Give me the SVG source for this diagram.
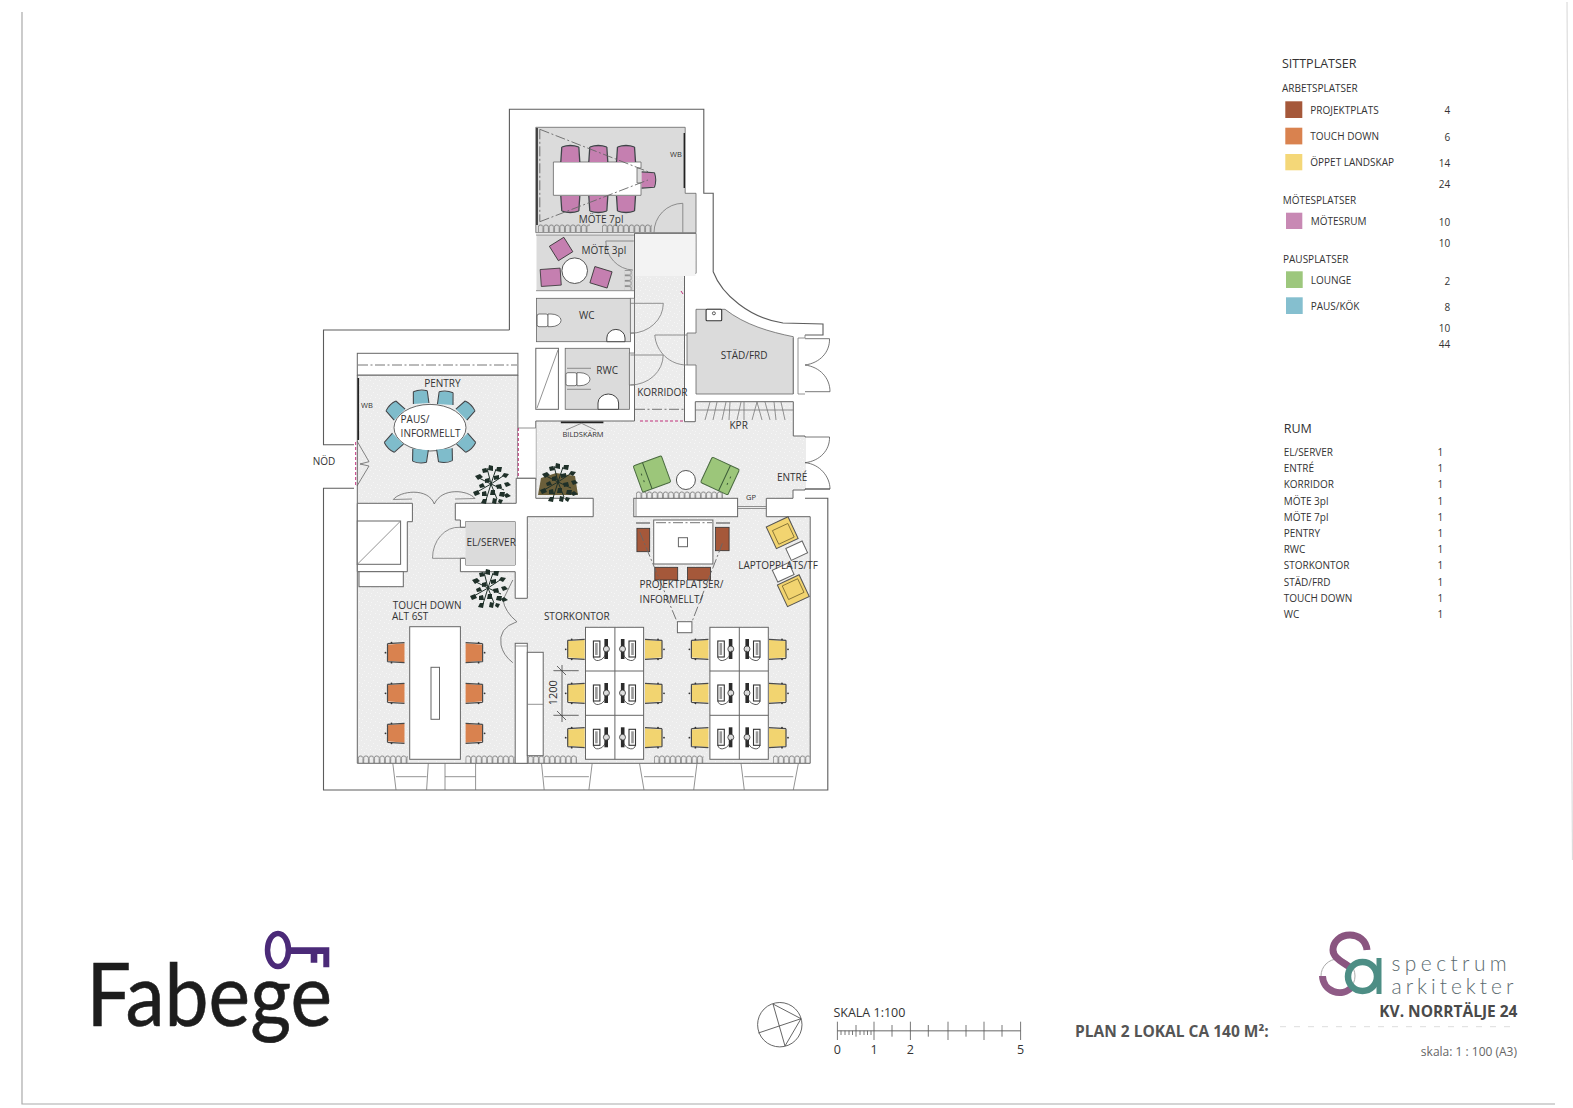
<svg xmlns="http://www.w3.org/2000/svg" width="1573" height="1108" viewBox="0 0 1573 1108">
<style>
text{font-family:"Open Sans","Liberation Sans",sans-serif;fill:#333}
.l{font-size:10px}
.r{font-size:10px}
.n{font-size:10px;text-anchor:end}
.s{font-size:7.500px}
.w{fill:none;stroke:#5c5c5c;stroke-width:1.1}
.t{fill:none;stroke:#777;stroke-width:.8}
.wh{fill:#fff;stroke:#666;stroke-width:1}
.dd{fill:none;stroke:#666;stroke-width:.9;stroke-dasharray:10 2.5 2 2.5}
.mg{fill:none;stroke:#c0307a;stroke-width:1;stroke-dasharray:3 2}
.rm{fill:#dbdbdb}
</style>
<defs>
<pattern id="curtain" width="5.4" height="8" patternUnits="userSpaceOnUse"><path d="M.3 8V3.2a2.3 2.3 0 0 1 4.6 0V8" fill="none" stroke="#666" stroke-width=".7"/></pattern>
<pattern id="curtainV" width="8" height="5.4" patternUnits="userSpaceOnUse"><path d="M0 .3H4.8a2.3 2.3 0 0 1 0 4.6H0" fill="none" stroke="#666" stroke-width=".7"/></pattern>
<pattern id="floor" width="9" height="9" patternUnits="userSpaceOnUse"><rect width="9" height="9" fill="#ececec"/><path d="M1 2h1v1H1zM6 1h1v1H6zM4 5h1v1H4zM8 7h1v1H8zM2 8h1v1H2z" fill="#f6f6f6"/></pattern>
<g id="c"><path d="M-8-7Q0-9 8-7L9.500 8H-9.500Z"/><path d="M-8.500-7Q0-10 8.500-7M-8.500-7L-9.500 8M8.500-7L9.500 8" fill="none" stroke="#3f4448" stroke-width="1.300"/></g>
<g id="c2"><path d="M-8-8H8L9.500 9H-9.500Z"/><path d="M-9-8H9M-9-8L-10 9M9-8L10 9" fill="none" stroke="#4a4a4a" stroke-width="1.200"/><circle cx="-10" cy="-4" r=".9" fill="#333"/><circle cx="10" cy="-4" r=".9" fill="#333"/><circle cx="0" cy="-10" r=".9" fill="#333"/></g>
<g id="pc"><rect x="-9" y="-8" width="6.500" height="16" fill="#fff" stroke="#333" stroke-width="1.100"/><rect x="-7.300" y="-6" width="2.600" height="12" fill="#999"/><rect x="2" y="-10" width="3.600" height="20" fill="#2c2c2c"/><circle cx="4" cy="0" r="3" fill="#ddd" stroke="#333" stroke-width=".8"/><path d="M-9 8q1 4 5 3.500t6-4q2-3 3-6" fill="none" stroke="#333" stroke-width=".8"/></g>
<g id="plant"><path d="M0 0L-12-6M0 0L12-8M0 0L-14 8M0 0L13 6M0 0L-4-16M0 0L5-15M0 0L-5 16M0 0L6 15" stroke="#1f3029" stroke-width="1" fill="none"/><path d="M-16-8l5-2 3 3-5 3zM-9-15l4-1 2 4-5 1zM-2-19l4 1 0 5-5-1zM6-17l5 0-1 5-5-1zM13-11l5 1-3 4-4-2zM17-2l3 3-5 2-2-4zM-6-5l4-1 1 4-5 1zM3-8l5-1 0 4-5 1zM-12 1l4-2 2 4-5 1zM5 1l5-1 1 4-5 1zM-18 8l5-2 2 4-5 2zM-9 8l4-1 1 5-5 0zM0 6l4 0 0 5-5 0zM9 8l5 0-1 5-5-1zM16 9l4 3-5 2-2-3zM-8 15l4 0-1 5-5-1zM2 14l4 1-1 5-4-1zM8 15l4 1-2 4-3-2z" fill="#1f3029"/></g>
</defs>
<rect width="1573" height="1108" fill="#fff"/>
<g id="page-frame" fill="none" stroke="#aaa" stroke-width="1.200"><path d="M22 12V1104H1555"/><path d="M1567 2L1572.500 860" stroke="#ddd"/></g>

<g id="floor-plan">
<polygon id="floor-main" points="357.3,375 517.9,375 517.9,480 535.8,480 535.8,421 634.5,421 634.5,233.3 696,233.3 696,273.3 684.5,273.3 684.5,421.7 695.3,421.7 695.3,401.7 793.3,401.7 793.3,436 805,436 805,490 793,490 793,498.3 766.3,498.3 766.3,516.7 810.2,516.7 810.2,763.3 357.3,763.3" fill="url(#floor)" stroke="#666" stroke-width="1"/>
<path d="M805 437V489" stroke="#ececec" stroke-width="2"/>
<rect x="635" y="234" width="60.500" height="42" fill="#f3f3f3"/>
<path class="w" d="M509.400 330V109.300H703.800V193.300H713.200V271.700C722 295 750 318 783 323L823 324V335H805M805 489H830M805 498.300H827.800V790H323.500V488.300H354M354 444.800H323.500V330H509.400"/>
<g id="windows" class="t"><path d="M392.800 763.300L396 790M396 776.700H426.600M426.600 790L428.300 763.300M445 763.300V790M445 776.700H475.600M475.600 790V763.300M541.500 763.300L544.200 790M544.200 776.700H588.900M588.900 790L592.200 763.300M639.500 763.300L644 790M644 776.700H693.700M693.700 790L697 763.300M741 763.300L744.300 790M744.300 776.700H793.300M793.300 790L798.400 763.300"/></g>
<rect transform="translate(358,755)" width="50" height="8" fill="url(#curtain)"/>
<rect transform="translate(465.500,755)" width="49" height="8" fill="url(#curtain)"/>
<rect transform="translate(528,755)" width="49" height="8" fill="url(#curtain)"/>
<rect transform="translate(654,755)" width="49.500" height="8" fill="url(#curtain)"/>
<rect transform="translate(773,755)" width="36.500" height="8" fill="url(#curtain)"/>
<rect transform="translate(636,491)" width="87" height="8" fill="url(#curtain)"/>

<g id="walls">
<polygon class="wh" points="455.3,503.3 516.2,503.3 516.2,478.3 535.8,478.3 535.8,498.3 593.2,498.3 593.2,516.7 527.3,516.7 527.3,598.3 515.2,598.3 515.2,571.700 460.4,571.7 460.4,558.3 465.5,558.3 465.5,565 515.2,565 515.2,521.7 465.5,521.7 465.5,527.3 460.4,527.3 460.4,520 455.300,520"/>
<polygon class="wh" points="357.3,503.3 412.4,503.3 412.4,521.7 407.3,521.7 407.3,571.7 357.3,571.7"/>
<rect class="wh" x="357.300" y="521" width="43.300" height="43.300"/><path class="t" d="M400.600 521L357.300 564.300"/>
<rect class="wh" x="359" y="571.700" width="44.300" height="15"/>
<rect class="wh" x="515.200" y="643.300" width="12.100" height="120"/><path class="t" d="M515.200 646H527.300"/>
<rect class="wh" x="527.300" y="652.300" width="15.900" height="103.400"/><path class="t" d="M527.300 704.300H543.200"/>
<rect x="518" y="428" width="17.800" height="50" fill="#fff"/><path class="t" d="M518 428H535.800M518 478H535.800"/>
<path class="mg" d="M518.300 428V478M355.700 442V487M640 421H684"/>
<path class="dd" d="M635 409.300H684.500"/>
<rect class="wh" x="357.300" y="353.300" width="160.600" height="21.700"/><path class="dd" d="M358 365H517"/>
<path d="M358.300 378V440" stroke="#222" stroke-width="1.600"/>
<path d="M681 291L683 294" stroke="#c0307a" stroke-width="1"/>
</g>

<g id="room-mote7">
<polygon class="rm" points="535.800,127.300 685.200,127.300 685.200,193.300 696,193.300 696,232.700 535.800,232.700" stroke="#666" stroke-width=".8"/>
<path d="M537 128V225" stroke="#222" stroke-width="1.600"/><path d="M684.300 133V188" stroke="#222" stroke-width="1.400"/>
<polygon fill="#fff" stroke="#666" stroke-width=".8" points="553.400,162 641,162 641,168 637,168 637,183 641,183 641,195.300 553.400,195.300"/>
<g fill="#c57fb0"><use href="#c" x="570.300" y="154"/><use href="#c" x="598.300" y="154"/><use href="#c" x="626" y="154"/><use href="#c" transform="translate(570.300,204) rotate(180)"/><use href="#c" transform="translate(598.300,204) rotate(180)"/><use href="#c" transform="translate(626,204) rotate(180)"/><use href="#c" transform="translate(648.500,180) rotate(90) scale(.85)"/></g>
<path class="dd" d="M539.800 129.300L648 171.700M539.800 221.700L648 180M539.800 129.300V221.700"/>
<path class="t" d="M682.800 232.700V203.300A29 29.400 0 0 0 654 232.700"/>
<rect transform="translate(538,224)" width="52" height="8" fill="url(#curtain)"/>
<rect transform="translate(602,224)" width="50" height="8" fill="url(#curtain)"/>
</g>
<g id="room-mote3">
<rect class="rm" x="536.500" y="235" width="97.300" height="55.700"/><path class="t" d="M536 235H634M536 290.700H634"/>
<circle cx="574.700" cy="270.700" r="12.800" fill="#fff" stroke="#555"/>
<g fill="#c57fb0" stroke="#333" stroke-width=".8"><rect x="-8.500" y="-8.500" width="17" height="17" transform="translate(561.100,249) rotate(-32)"/><rect x="-10" y="-8.500" width="20" height="17" transform="translate(550.700,277.300) rotate(-4)"/><rect x="-9" y="-8.500" width="18" height="17" transform="translate(601,277.300) rotate(17)"/></g>
<path class="t" d="M633.800 241H605.800A28 29 0 0 0 632.800 270"/>
<rect transform="translate(624.500,270)" width="8" height="20" fill="url(#curtainV)"/>
</g>
<g id="room-wc">
<rect class="rm" x="536.500" y="298.300" width="93.900" height="43.400" stroke="#666" stroke-width=".8"/>
<path d="M630.400 298.300H634.500V333H630.400Z" fill="#ebebeb" stroke="#666" stroke-width=".7"/>
<path class="t" d="M630.500 303.300H663.300A33 30 0 0 1 630.500 333.300"/>
<rect x="537.100" y="314" width="11" height="12.700" rx="2" fill="#fff" stroke="#555" stroke-width=".8"/><path d="M548 314H551A10 6.300 0 0 1 551 326.700H548Z" fill="#fff" stroke="#555" stroke-width=".8"/>
<path d="M606.800 341.700V338A9 8.500 0 0 1 625 338V341.700Z" fill="#fff" stroke="#444" stroke-width="1"/>
</g>
<g id="room-rwc">
<rect class="rm" x="565.200" y="348.300" width="64.200" height="61" stroke="#666" stroke-width=".8"/>
<path d="M629.400 353H634.500V385H629.400Z" fill="#ebebeb" stroke="#666" stroke-width=".7"/>
<path class="t" d="M630.400 355H663.200A33 30 0 0 1 630.400 385"/>
<rect x="565.900" y="372.700" width="11" height="13" rx="2" fill="#fff" stroke="#555" stroke-width=".8"/><path d="M577 372.700H580A10 6.500 0 0 1 580 385.700H577Z" fill="#fff" stroke="#555" stroke-width=".8"/>
<path class="t" d="M567 368.300H591M567 389.300H591"/>
<path d="M598 409.300V403A10.300 9 0 0 1 618.600 403V409.300Z" fill="#fff" stroke="#444" stroke-width="1"/>
</g>
<g id="closet"><rect class="wh" x="535.800" y="348.300" width="22.600" height="61"/><path class="t" d="M558 350L537 408"/></g>
<g id="room-stad">
<path class="rm" d="M696 309.300H725C745 325 770 332 793.300 336.700V394H696V365H687V333H696Z" stroke="#666" stroke-width=".8"/>
<path class="t" d="M654.800 335H687M654.800 335C656 352 670 365 687 365"/>
<rect x="706.100" y="309.300" width="15.600" height="11.400" rx="1" fill="#fff" stroke="#333" stroke-width="1.100"/><circle cx="713.900" cy="313.300" r="1.500" fill="#fff" stroke="#333" stroke-width=".8"/>
</g>
<g id="doors" class="t">
<path d="M793.300 338V394M798 338V394M798 338H805V335M798 394H805"/>
<path d="M805 338.700H829.500C830 352 820 363 805 365C820 367 830 378 830 391.700H805" stroke="#555"/>
<path d="M805 437H829.500C830 450 820 461 805 462.700C820 464 830 477 830 489H805" stroke="#555"/>
<path d="M357 441L369 461.700L360 464L369 466L357 486" stroke="#666"/>
<path d="M393.300 499.500C400 491 428 487 434.300 504C442 487 468 490 475 498.500" stroke="#666"/>
<path d="M412 499L393.300 499.500M455 499L475 498.500"/>
<path d="M465.500 527.300H460A26 31 0 0 0 432.500 558.300H465.500"/>
<path d="M512.800 580L503 600Q505 612 516.900 621.700Q498 628 501 645Q503 655 512.800 662.700" stroke="#666"/>
<path d="M737.600 506.500H766.300M737.600 508.500H766.300" stroke="#777"/>
</g>
<g id="kpr" class="t"><path d="M695.300 410H793.300M705 420L710 402M713 420L717 402M722 420L726 402M729 420L730 402M737 420L741 402M744 420L744 402M752 420L757 402M762 420L757 402M770 420L765 402M776 420L774 402M785 420L781 402"/></g>
<g id="bildskarm"><path d="M560.800 422.300H603.400" stroke="#222" stroke-width="1.800"/><path class="t" d="M566 430L581.400 423.300L595.600 430"/></g>
<g id="room-pentry">
<ellipse cx="430" cy="427.700" rx="36" ry="23.300" fill="#fff" stroke="#666"/>
<g fill="#7fbccb"><use href="#c" transform="translate(420.700,397) rotate(-4) scale(.82)"/><use href="#c" transform="translate(445.700,398) rotate(4) scale(.82)"/><use href="#c" transform="translate(395,410) rotate(-45) scale(.82)"/><use href="#c" transform="translate(466,410) rotate(45) scale(.82)"/><use href="#c" transform="translate(393.300,443.300) rotate(-135) scale(.82)"/><use href="#c" transform="translate(466.700,443.300) rotate(135) scale(.82)"/><use href="#c" transform="translate(420,456) rotate(185) scale(.82)"/><use href="#c" transform="translate(445,455.500) rotate(175) scale(.82)"/></g>
</g>
<g id="room-el"><rect class="rm" x="465.500" y="521.700" width="49.700" height="43.300"/></g>
<g id="plants"><use href="#plant" x="491" y="484"/><g><path d="M538 495L541 478L556 473L575 476L578 495Z" fill="#6b5f3a"/><use href="#plant" x="558" y="482"/></g><use href="#plant" x="488" y="588"/></g>
<g id="lounge">
<g transform="translate(652,474) rotate(-20)"><rect x="-15" y="-14" width="30" height="28" rx="1.500" fill="#9cc67a" stroke="#4a6a40"/><path d="M-5-14V14M-10-4v2M-10 3v2" stroke="#3c5c38" fill="none"/></g>
<g transform="translate(720,476) rotate(25)"><rect x="-15" y="-14" width="30" height="28" rx="1.500" fill="#9cc67a" stroke="#4a6a40"/><path d="M5-14V14M10-4v2M10 3v2" stroke="#3c5c38" fill="none"/></g>
<circle cx="685.900" cy="480" r="9.500" fill="#fff" stroke="#555"/>
<rect class="wh" x="633.800" y="498.300" width="103.800" height="18.400"/><path class="t" d="M636 498.300V516.700"/>
</g>
<g id="project">
<rect class="wh" x="653.700" y="520" width="59.200" height="44"/><rect class="wh" x="678.400" y="537.700" width="9.100" height="9"/>
<g fill="#a5583a" stroke="#333" stroke-width=".8"><rect x="636.900" y="528.300" width="12.800" height="23.400"/><rect x="715.600" y="527.300" width="13.500" height="23.400"/><rect x="654.800" y="567.300" width="22.900" height="12.700"/><rect x="687.500" y="567.300" width="23" height="12.700"/></g>
<path class="dd" d="M639.600 531.700L677 621.700M722.400 543.300L692 621.700M656 522.700H712"/>
<rect class="wh" x="677.400" y="621.700" width="14.500" height="11"/>
<path d="M636 523H650M716 523H730" stroke="#444" stroke-width="1.100"/>
</g>
<g id="laptop">
<g transform="translate(782.200,532.700) rotate(-25)"><rect x="-12" y="-12" width="24" height="24" fill="#f2d470" stroke="#555"/><rect x="-8" y="-6" width="17" height="15" fill="none" stroke="#7a6a30" stroke-width=".8"/></g>
<g transform="translate(793.300,590.700) rotate(-25)"><rect x="-12" y="-12" width="24" height="24" fill="#f2d470" stroke="#555"/><rect x="-8" y="-9" width="17" height="15" fill="none" stroke="#7a6a30" stroke-width=".8"/></g>
<rect x="-9" y="-6.500" width="18" height="13" transform="translate(796.700,550.700) rotate(-25)" class="wh"/>
<rect x="-9" y="-6.500" width="18" height="13" transform="translate(783.200,572.300) rotate(-25)" class="wh"/>
</g>
<g id="touchdown">
<rect class="wh" x="409.700" y="626.700" width="50.700" height="132.600"/><rect class="wh" x="431" y="667.300" width="8.500" height="52"/>
<g fill="#d9824f"><use href="#c2" transform="translate(395.500,652.700) rotate(-90)"/><use href="#c2" transform="translate(395.500,693.300) rotate(-90)"/><use href="#c2" transform="translate(395.500,733.300) rotate(-90)"/><use href="#c2" transform="translate(474.600,652.700) rotate(90)"/><use href="#c2" transform="translate(474.600,693.300) rotate(90)"/><use href="#c2" transform="translate(474.600,733.300) rotate(90)"/></g>
</g>
<g id="desks-a">
<rect class="wh" x="585.500" y="627.300" width="58.100" height="132"/><path d="M614.900 627.300V759.300M585.500 671H643.600M585.500 715.300H643.600" stroke="#666" fill="none"/>
<g><use href="#pc" x="602.400" y="649"/><use href="#pc" x="602.400" y="693"/><use href="#pc" x="602.400" y="737.300"/><use href="#pc" transform="translate(626.500,649) scale(-1,1)"/><use href="#pc" transform="translate(626.500,693) scale(-1,1)"/><use href="#pc" transform="translate(626.500,737.300) scale(-1,1)"/></g>
<g fill="#f2d470"><use href="#c2" transform="translate(575.700,649.300) rotate(-90)"/><use href="#c2" transform="translate(575.700,693.300) rotate(-90)"/><use href="#c2" transform="translate(575.700,737.700) rotate(-90)"/><use href="#c2" transform="translate(654,649.300) rotate(90)"/><use href="#c2" transform="translate(654,693.300) rotate(90)"/><use href="#c2" transform="translate(654,737.700) rotate(90)"/></g>
</g>
<g id="desks-b">
<rect class="wh" x="709.900" y="627.300" width="58.400" height="132"/><path d="M739.300 627.300V759.300M709.900 671H768.300M709.900 715.300H768.300" stroke="#666" fill="none"/>
<g><use href="#pc" x="726.800" y="649"/><use href="#pc" x="726.800" y="693"/><use href="#pc" x="726.800" y="737.300"/><use href="#pc" transform="translate(751,649) scale(-1,1)"/><use href="#pc" transform="translate(751,693) scale(-1,1)"/><use href="#pc" transform="translate(751,737.300) scale(-1,1)"/></g>
<g fill="#f2d470"><use href="#c2" transform="translate(699.400,649.300) rotate(-90)"/><use href="#c2" transform="translate(699.400,693.300) rotate(-90)"/><use href="#c2" transform="translate(699.400,737.700) rotate(-90)"/><use href="#c2" transform="translate(778,649.300) rotate(90)"/><use href="#c2" transform="translate(778,693.300) rotate(90)"/><use href="#c2" transform="translate(778,737.700) rotate(90)"/></g>
</g>
<g id="dimension" fill="none" stroke="#444" stroke-width=".8"><path d="M553.400 670.700H578.700M553.400 715.300H578.700M562 665V722M557 666L566 675M557 711L566 720"/></g>
<g id="plan-labels">
<text class="s" x="670" y="157.300">WB</text>
<text class="s" x="361" y="408">WB</text>
<text class="r" x="578.700" y="223">MÖTE 7pl</text>
<text class="r" x="581.400" y="253.500">MÖTE 3pl</text>
<text class="r" x="579" y="318.500">WC</text>
<text class="r" x="596.300" y="373.500">RWC</text>
<text class="r" x="720.700" y="358.500">STÄD/FRD</text>
<text class="r" x="637.200" y="396">KORRIDOR</text>
<text class="r" x="729.500" y="429">KPR</text>
<text class="s" x="562.500" y="436.500">BILDSKÄRM</text>
<text class="r" x="424.200" y="386.500">PENTRY</text>
<text class="r" x="400.600" y="422.500">PAUS/</text>
<text class="r" x="400.600" y="436.500">INFORMELLT</text>
<text class="r" x="312.700" y="465">NÖD</text>
<text class="r" x="777" y="480.500">ENTRÉ</text>
<text class="s" x="746" y="500">GP</text>
<text class="r" x="466.500" y="546">EL/SERVER</text>
<text class="r" x="738.200" y="569">LAPTOPPLATS/TF</text>
<text class="r" x="639.600" y="588">PROJEKTPLATSER/</text>
<text class="r" x="639.600" y="602.500">INFORMELLT/</text>
<text class="r" x="392.800" y="609">TOUCH DOWN</text>
<text class="r" x="392" y="620">ALT 6ST</text>
<text class="r" x="543.900" y="620">STORKONTOR</text>
<text font-size="11" transform="translate(557,692.700) rotate(-90)" text-anchor="middle">1200</text>
</g>
</g>

<g id="legend-seats">
<text x="1282" y="68" font-size="12.500">SITTPLATSER</text>
<text class="l" x="1282" y="92">ARBETSPLATSER</text>
<rect x="1285.300" y="101.300" width="17" height="16.700" fill="#a5583a"/><text class="l" x="1310.300" y="114">PROJEKTPLATS</text><text class="n" x="1450.300" y="114">4</text>
<rect x="1285.300" y="127.700" width="17" height="16.700" fill="#d9824f"/><text class="l" x="1310.300" y="140">TOUCH DOWN</text><text class="n" x="1450.300" y="140.500">6</text>
<rect x="1285.300" y="154" width="17" height="16.300" fill="#f4d778"/><text class="l" x="1310.300" y="166">ÖPPET LANDSKAP</text><text class="n" x="1450.300" y="166.500">14</text>
<text class="n" x="1450.300" y="188">24</text>
<text class="l" x="1282.700" y="203.700">MÖTESPLATSER</text>
<rect x="1286" y="212.700" width="16.300" height="16.300" fill="#c889b4"/><text class="l" x="1310.700" y="225">MÖTESRUM</text><text class="n" x="1450.300" y="225.500">10</text>
<text class="n" x="1450.300" y="246.700">10</text>
<text class="l" x="1283" y="262.700">PAUSPLATSER</text>
<rect x="1286" y="271.300" width="16.700" height="16.700" fill="#9dc77d"/><text class="l" x="1310.700" y="284">LOUNGE</text><text class="n" x="1450.300" y="284.500">2</text>
<rect x="1286" y="297.300" width="16.700" height="16.700" fill="#85bfcf"/><text class="l" x="1310.700" y="310">PAUS/KÖK</text><text class="n" x="1450.300" y="311">8</text>
<text class="n" x="1450.300" y="331.700">10</text>
<text class="n" x="1450.300" y="347.700">44</text>
</g>
<g id="legend-rooms">
<text x="1283.700" y="432.700" font-size="12.500">RUM</text>
<text class="l" x="1283.700" y="456">EL/SERVER</text><text class="n" x="1443.300" y="456">1</text>
<text class="l" x="1283.700" y="472.300">ENTRÉ</text><text class="n" x="1443.300" y="472.300">1</text>
<text class="l" x="1283.700" y="488.300">KORRIDOR</text><text class="n" x="1443.300" y="488.300">1</text>
<text class="l" x="1283.700" y="504.700">MÖTE 3pl</text><text class="n" x="1443.300" y="504.700">1</text>
<text class="l" x="1283.700" y="521">MÖTE 7pl</text><text class="n" x="1443.300" y="521">1</text>
<text class="l" x="1283.700" y="537">PENTRY</text><text class="n" x="1443.300" y="537">1</text>
<text class="l" x="1283.700" y="553.300">RWC</text><text class="n" x="1443.300" y="553.300">1</text>
<text class="l" x="1283.700" y="569.300">STORKONTOR</text><text class="n" x="1443.300" y="569.300">1</text>
<text class="l" x="1283.700" y="585.700">STÄD/FRD</text><text class="n" x="1443.300" y="585.700">1</text>
<text class="l" x="1283.700" y="602">TOUCH DOWN</text><text class="n" x="1443.300" y="602">1</text>
<text class="l" x="1283.700" y="618">WC</text><text class="n" x="1443.300" y="618">1</text>
</g>

<g id="fabege-logo">
<text x="86.500" y="1026" font-size="88" textLength="245.500" lengthAdjust="spacingAndGlyphs" style="font-family:Lato,'Liberation Sans',sans-serif;fill:#1d1d1d" stroke="#1d1d1d" stroke-width=".6">Fabege</text>
<ellipse cx="278" cy="950" rx="10.500" ry="16.500" fill="none" stroke="#4b2a78" stroke-width="5.500"/>
<path d="M289 947.300H329.300V967.300H323.300V954H317.300V962.700H310.700V954H289Z" fill="#4b2a78"/>
</g>
<g id="north"><circle cx="779.800" cy="1024.700" r="22.200" fill="none" stroke="#555" stroke-width=".9"/><path d="M773 1004L801 1018.700L785 1046L773 1004M758.400 1033L801 1018.700" fill="none" stroke="#555" stroke-width=".9"/></g>
<g id="scale">
<text x="833.400" y="1017" font-size="12.500">SKALA 1:100</text>
<path d="M837.400 1030.700H1020.600" stroke="#999" stroke-width="1.400"/>
<path d="M837.400 1021.700V1040M874 1021.700V1040M910.400 1021.700V1040M948 1021.700V1040M984 1021.700V1040M1020.600 1021.700V1040M892 1025V1036.700M928.300 1025V1036.700M966 1025V1036.700M1002 1025V1036.700M856 1025V1036.700M841 1030.700V1035M845 1030.700V1035M849 1030.700V1035M852.500 1030.700V1035M860 1030.700V1035M864 1030.700V1035M867.500 1030.700V1035M871 1030.700V1035" stroke="#555" stroke-width=".8" fill="none"/>
<g font-size="12.500" text-anchor="middle"><text x="837.400" y="1054">0</text><text x="874" y="1054">1</text><text x="910.400" y="1054">2</text><text x="1020.600" y="1054">5</text></g>
</g>
<g id="title-block">
<text x="1075" y="1037.300" font-size="15.500" font-weight="700" style="fill:#555">PLAN 2 LOKAL CA 140 M²:</text>
<path d="M1280 1026.700H1517" stroke="#ddd" stroke-width="1" stroke-dasharray="6 8"/>
<text x="1517.500" y="1016.700" font-size="15.500" font-weight="700" text-anchor="end" style="fill:#4a4a4a">KV. NORRTÄLJE 24</text>
<text x="1517" y="1055.700" font-size="12" text-anchor="end" style="fill:#666">skala:  1 : 100 (A3)</text>
</g>
<g id="spectrum-logo">
<circle cx="1338" cy="976" r="17" fill="none" stroke="#aaa" stroke-width="1"/>
<path d="M1322.500 976A17 17 0 0 0 1352 987" fill="none" stroke="#8f5b86" stroke-width="7"/>
<path d="M1367 950C1366 940 1358 935 1350 935C1340 935 1333 942 1333 950C1333 958 1343 962 1351 968" fill="none" stroke="#8a5580" stroke-width="7"/>
<circle cx="1362.500" cy="976.500" r="14.500" fill="none" stroke="#4d8e85" stroke-width="6.500"/>
<path d="M1379 958V994" stroke="#4d8e85" stroke-width="5"/>
<text x="1391.500" y="970.700" font-size="21" letter-spacing="4.400" style="font-family:Lato,'Liberation Sans',sans-serif;font-weight:300;fill:#5b6b70">spectrum</text>
<text x="1391.500" y="994" font-size="21" letter-spacing="4" style="font-family:Lato,'Liberation Sans',sans-serif;font-weight:300;fill:#5b6b70">arkitekter</text>
</g>
</svg>
